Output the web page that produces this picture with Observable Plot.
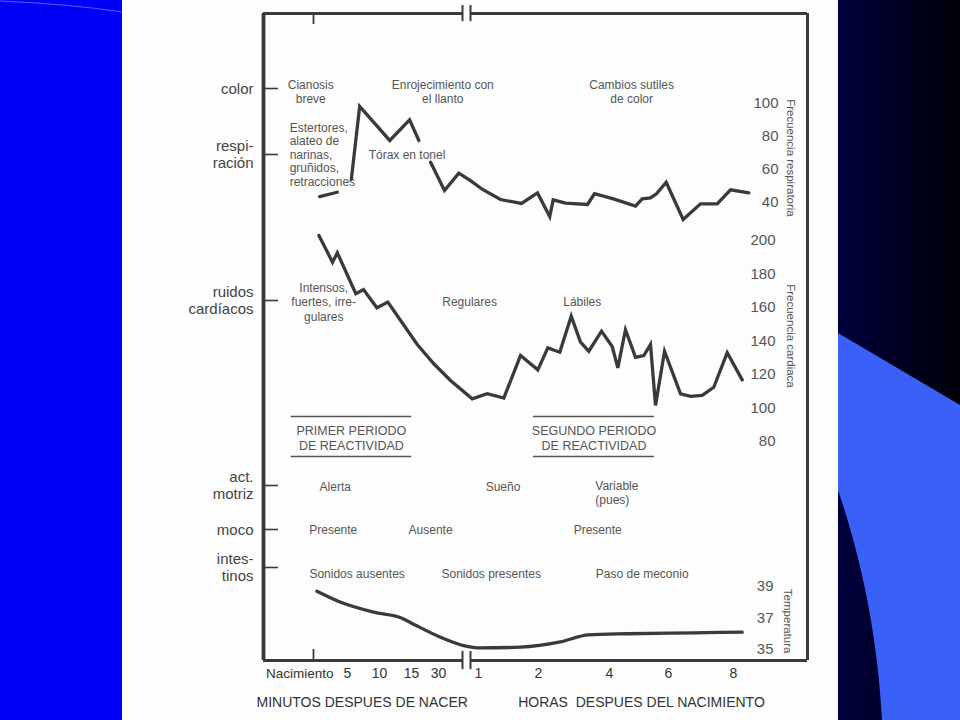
<!DOCTYPE html>
<html><head><meta charset="utf-8">
<script src="https://cdn.jsdelivr.net/npm/d3@7"></script>
<script src="https://cdn.jsdelivr.net/npm/@observablehq/plot@0.6"></script>
<style>
html,body{margin:0;padding:0;width:960px;height:720px;overflow:hidden;background:#fff;}
#stage{position:relative;width:960px;height:720px;font-family:"Liberation Sans",Arial,Helvetica,sans-serif;}
#leftBand{position:absolute;left:0;top:0;width:122px;height:720px;background:#0000f6;}
#paper{position:absolute;left:122px;top:0;width:716px;height:720px;background:#fdfdfd;}
#rightBand{position:absolute;left:838px;top:0;width:122px;height:720px;background:linear-gradient(to right,#00003e,#000008);}
#deco{position:absolute;left:0;top:0;}
</style></head>
<body><div id="stage">
<div id="leftBand"></div><div id="paper"></div><div id="rightBand"></div>
<svg id="deco" width="960" height="720">
  <path d="M0,1 Q70,4 122,12" fill="none" stroke="#8fa0ff" stroke-width="1" opacity="0.6"/>
  <path d="M838,333 L960,405 L960,720 L882,720 C878,640 862,560 838,490 Z" fill="#3a60f8"/>
</svg>
</div>
<script>
// ---------- data ----------
const xTickLabels = ["Nacimiento","5","10","15","30","1","2","4","6","8"];
const xTickMinutes = [0,5,10,15,30,60,120,240,360,480];

const rowLabels = ["color","respi-\nración","ruidos\ncardíacos","act.\nmotriz","moco","intes-\ntinos"];
const rowIndex  = [0,1,2,4,5,6];

// Frecuencia respiratoria (minutes after birth, breaths/min, segment)
const respMinute = [0.9,3.5, 5.6,6.9,11.6,14.7,19.1, 25.6,34.5,45.2,54,64,82,103,119,139,144.8,165.6,202.8,214.6,248,292.9,306.5,323.4,335.6,355.3,387.1,419,449.9,474.5,508.2];
const respRate   = [43.6,46.2, 54,98.2,77.6,90.1,77.6, 64.4,47.3,57.8,53.3,47.9,41.8,39.4,45.8,31.5,41.6,39.6,38.8,45.3,42.2,37.8,42.2,42.8,45.3,52.3,29.7,39.2,39.2,47.7,45.9];
const respSeg    = ["a","a","b","b","b","b","b","c","c","c","c","c","c","c","c","c","c","c","c","c","c","c","c","c","c","c","c","c","c","c","c"];
const respTicks  = [100,80,60,40];

// Frecuencia cardiaca
const heartMinute = [0.8,2.8,3.5,6.3,7.5,9.6,11.3,13.3,18.2,27.4,39,55.3,68.7,85.3,102,119.3,135.7,156,175.3,191,205,226.5,245.5,256.9,272.5,292.9,309.8,323.4,333.6,351.9,382.2,400.6,422.2,443.6,468.4,496];
const heartRate   = [203,187,192.7,168.2,170.7,159.8,163.2,152.2,137.9,126.4,116.4,105.5,108.5,105.9,131.3,122.8,135.9,133.3,154.8,139.3,133.9,145.9,136.7,124,146.7,130.3,131.3,137.9,101.5,133.9,108.5,106.9,107.5,112.4,133,116.8];
const heartTicks  = [200,180,160,140,120,100,80];

// Temperatura
const tempMinute = [0.5,4,9.1,13.5,17.6,31.5,48.9,62,102,157,204.5,276,406.7,496];
const tempValue  = [38.7,38.0,37.37,36.99,36.52,35.78,35.25,35.1,35.15,35.48,35.93,36.0,36.06,36.1];
const tempTicks  = [39,37,35];

// Periodos de reactividad
const periodLabels = ["PRIMER PERIODO\nDE REACTIVIDAD","SEGUNDO PERIODO\nDE REACTIVIDAD"];
const periodStart  = [-3.3,115];
const periodEnd    = [15.1,331.5];
const periodMid    = [5.6,213.8];

const notes = [
  {text:"Cianosis\nbreve", t:-0.4, row:0},
  {text:"Enrojecimiento con\nel llanto", t:33.2, row:0},
  {text:"Cambios sutiles\nde color", t:285, row:0},
  {text:"Estertores,\nalateo de\nnarinas,\ngruñidos,\nretracciones", t:-3.5, row:1, anchor:"start"},
  {text:"Tórax en tonel", t:14.3, row:1},
  {text:"Intensos,\nfuertes, irre-\ngulares", t:1.5, row:2},
  {text:"Regulares", t:53.3, row:2},
  {text:"Lábiles", t:194, row:2},
  {text:"Alerta", t:3.2, row:4},
  {text:"Sueño", t:84.5, row:4},
  {text:"Variable\n(pues)", t:216, row:4, anchor:"start", top:true},
  {text:"Presente", t:2.9, row:5},
  {text:"Ausente", t:25.6, row:5},
  {text:"Presente", t:220, row:5},
  {text:"Sonidos ausentes", t:6.5, row:6},
  {text:"Sonidos presentes", t:72.7, row:6},
  {text:"Paso de meconio", t:306.5, row:6}
];
const axisTitles = ["MINUTOS DESPUES DE NACER","HORAS  DESPUES DEL NACIMIENTO"];
const axisTitleAt = [7.3,305];

// ---------- layout ----------
const W = 960, H = 720;
const FONT = '"Liberation Sans", Arial, Helvetica, sans-serif';
const INK = "#3a3a3a", SOFT = "#555", LABEL = "#444";
const xStops  = [-7.35,0,5,10,15,30,60,120,240,360,480,616];
const xPixels = [263,313,347,379,411,438,478,538,609,668,733,807];
const xLeft = -7.35, xRight = 616, breakA = 48, breakB = 54;
const rowStops  = [-1,0,1,2,3,4,5,6,7];
const rowPixels = [13,88,154,300,437,485,529,567,660];
const rowNudge = {0:3,1:0,2:1,4:1,5:0,6:6};
const layerStyle = {position:"absolute",left:"0px",top:"0px",background:"transparent",overflow:"visible",fontFamily:FONT};
const X = {type:"linear", domain:xStops, range:xPixels, axis:null};

const stage = document.getElementById("stage");

// ---------- base layer: frame, rows, annotations ----------
const noteMarks = notes.map(n => Plot.text([n], {
  x: "t", y: "row", text: "text",
  textAnchor: n.anchor || "middle",
  lineAnchor: n.top ? "top" : "middle",
  dy: n.top ? -6 : rowNudge[n.row],
  fontSize: 12, lineHeight: n.anchor === "start" && !n.top ? 1.13 : 1.2, fill: SOFT
}));

const base = Plot.plot({
  width: W, height: H,
  marginLeft: 263, marginRight: 153, marginTop: 13, marginBottom: 60,
  x: X,
  y: {type:"linear", domain: rowStops, range: rowPixels, axis: null},
  style: layerStyle,
  marks: [
    Plot.ruleX([xLeft], {x: d => d, y1: -1, y2: 7, stroke: INK, strokeWidth: 3.8}),
    Plot.ruleX([xRight], {x: d => d, y1: -1, y2: 7, stroke: INK, strokeWidth: 3}),
    Plot.ruleY([-1, 7], {y: d => d, x1: xLeft, x2: breakA, stroke: INK, strokeWidth: 3.2}),
    Plot.ruleY([-1, 7], {y: d => d, x1: breakB, x2: xRight, stroke: INK, strokeWidth: 3.2}),
    Plot.ruleX([breakA, breakB], {x: d => d, y1: -1, y2: -1, insetTop: -8, insetBottom: -8, stroke: INK, strokeWidth: 2}),
    Plot.ruleX([breakA, breakB], {x: d => d, y1: 7, y2: 7, insetTop: -9, insetBottom: -9, stroke: INK, strokeWidth: 2}),
    Plot.ruleX([0], {x: d => d, y1: -1, y2: -1, insetTop: 0, insetBottom: -11, stroke: INK, strokeWidth: 1.8}),
    Plot.ruleX([0], {x: d => d, y1: 7, y2: 7, insetTop: -11, insetBottom: 0, stroke: INK, strokeWidth: 1.8}),
    Plot.ruleY(rowIndex, {y: d => d, x1: xLeft, x2: xLeft, insetRight: -15, stroke: INK, strokeWidth: 1.6}),
    Plot.text(rowIndex, {y: d => d, text: (d, i) => rowLabels[i], frameAnchor: "left", textAnchor: "end", dx: -10, fontSize: 15, lineHeight: 1.13, fill: LABEL}),
    Plot.ruleY([0, 1], {y: () => 3, x1: i => periodStart[i], x2: i => periodEnd[i], dy: -21, stroke: SOFT, strokeWidth: 1.4}),
    Plot.ruleY([0, 1], {y: () => 3, x1: i => periodStart[i], x2: i => periodEnd[i], dy: 19, stroke: SOFT, strokeWidth: 1.4}),
    Plot.text([0, 1], {x: i => periodMid[i], y: () => 3, text: i => periodLabels[i], fontSize: 12.5, lineHeight: 1.2, fill: SOFT}),
    ...noteMarks,
    Plot.text(xTickMinutes.slice(1), {x: d => d, text: (d, i) => xTickLabels[i + 1], frameAnchor: "bottom", dy: 17, fontSize: 14, fill: "#333"}),
    Plot.text([0], {x: d => d, text: () => xTickLabels[0], frameAnchor: "bottom", textAnchor: "end", dx: 20, dy: 17, fontSize: 13.5, fill: "#333"}),
    Plot.text([0, 1], {x: i => axisTitleAt[i], text: i => axisTitles[i], frameAnchor: "bottom", dy: 46, fontSize: 14, fill: "#333"})
  ]
});
stage.appendChild(base);

// ---------- quantitative layers ----------
function panel({domain, range, ticks, label, labelAt, right, labelDx, lineData, curve}) {
  return Plot.plot({
    width: W, height: H,
    marginLeft: 263, marginRight: W - right, marginTop: 0, marginBottom: 0,
    x: X,
    y: {type: "linear", domain, range, axis: null},
    style: layerStyle,
    marks: [
      Plot.text(ticks, {y: d => d, text: d => String(d), frameAnchor: "right", textAnchor: "end", fontSize: 15, fill: SOFT}),
      Plot.text([label], {y: () => labelAt, text: d => d, frameAnchor: "right", textAnchor: "middle", dx: labelDx, rotate: 90, fontSize: 11.5, fill: SOFT}),
      Plot.line(lineData, {x: "t", y: "v", z: "seg", curve: curve || "linear", stroke: INK, strokeWidth: 3.3, strokeLinejoin: "miter", strokeMiterlimit: 4})
    ]
  });
}

const respData  = respMinute.map((t, i) => ({t, v: respRate[i], seg: respSeg[i]}));
const heartData = heartMinute.map((t, i) => ({t, v: heartRate[i], seg: "h"}));
const tempData  = tempMinute.map((t, i) => ({t, v: tempValue[i], seg: "t"}));

stage.appendChild(panel({domain: [40, 100], range: [202, 103], ticks: respTicks, label: "Frecuencia respiratoria", labelAt: 67, right: 778, labelDx: 12, lineData: respData}));
stage.appendChild(panel({domain: [80, 200], range: [441, 240], ticks: heartTicks, label: "Frecuencia cardiaca", labelAt: 143, right: 775, labelDx: 15, lineData: heartData}));
stage.appendChild(panel({domain: [35, 39], range: [649, 586], ticks: tempTicks, label: "Temperatura", labelAt: 36.8, right: 773, labelDx: 14, lineData: tempData, curve: "monotone-x"}));
</script>
</body></html>
